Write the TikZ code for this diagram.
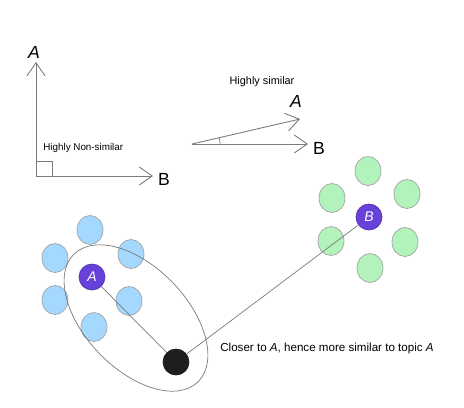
\documentclass[tikz,border=0pt]{standalone}
\usepackage{fontspec}
\setmainfont{Liberation Sans}
\usetikzlibrary{arrows.meta,shapes.geometric}
\definecolor{lineg}{HTML}{7a7a7a}
\definecolor{bluefill}{HTML}{a5d8ff}
\definecolor{greenfill}{HTML}{b2f2bb}
\definecolor{topicv}{HTML}{6741d9}
\definecolor{docblack}{HTML}{1e1e1e}

\begin{document}
\begin{tikzpicture}[x=0.02cm,y=-0.02cm,
    vec/.style={draw=lineg,line width=0.5pt,-{Straight Barb[length=2.6mm,width=3.6mm]}},
    lbl/.style={font=\fontsize{10}{12}\selectfont,inner sep=0pt},
    note/.style={font=\fontsize{5.6}{7}\selectfont,inner sep=0pt,anchor=west},
    blueblob/.style={ellipse,draw=lineg!70,fill=bluefill,minimum width=0.52cm,minimum height=0.58cm,inner sep=0pt},
    greenblob/.style={ellipse,draw=lineg!70,fill=greenfill,minimum width=0.52cm,minimum height=0.58cm,inner sep=0pt},
    topic/.style={circle,fill=topicv,draw=topicv!80!black,text=white,minimum size=0.52cm,inner sep=0pt,font=\fontsize{8}{9}\selectfont\itshape},
    doc/.style={circle,fill=docblack,draw=docblack,minimum size=0.52cm,inner sep=0pt}]
    \useasboundingbox (0,0) rectangle (464,407);

    % orthogonal vectors
    \coordinate (o1) at (36,176);
    \coordinate (a1) at (36,62);
    \coordinate (b1) at (153,176);
    \draw[vec] (o1) -- (a1);
    \draw[vec] (o1) -- (b1);
    \draw[lineg] (o1) rectangle (52,161);
    \node[lbl,font=\fontsize{10}{12}\selectfont\itshape] (la1) at (34,52) {A};
    \node[lbl] (lb1) at (164,179) {B};
    \node[note] (n1) at (43,148) {Highly Non-similar};

    % close vectors
    \coordinate (o2) at (192,144);
    \coordinate (a2) at (300,119);
    \coordinate (b2) at (308,144);
    \draw[vec] (o2) -- (a2);
    \draw[vec] (o2) -- (b2);
    \draw[lineg] (220,144) arc[start angle=0,end angle=-13,radius=28];
    \node[lbl,font=\fontsize{10}{12}\selectfont\itshape] (la2) at (296,101) {A};
    \node[lbl] (lb2) at (319,148) {B};
    \node[note,anchor=center,font=\fontsize{6.2}{7}\selectfont] (n2) at (262,82) {Highly similar};

    % topic A cluster
    \foreach \x/\y [count=\i] in {90/230, 55/258, 131/254, 55/300, 129/301, 94/327}
        \node[blueblob] (blue\i) at (\x,\y) {};
    % topic B cluster
    \foreach \x/\y [count=\i] in {368/171, 332/198, 407/194, 331/241, 405/242, 370/268}
        \node[greenblob] (green\i) at (\x,\y) {};

    \draw[lineg] (136,318) ellipse[x radius=89,y radius=51,rotate=-46];

    \node[topic] (ta) at (92,277) {A};
    \node[topic] (tb) at (369,217) {B};
    \node[doc] (d) at (176,362) {};
    \draw[lineg] (ta) -- (d);
    \draw[lineg] (d) -- (tb);

    \node[note,font=\fontsize{6.6}{8}\selectfont] (n3) at (220,348) {Closer to \textit{A}, hence more similar to topic \textit{A}};
\end{tikzpicture}
\end{document}
